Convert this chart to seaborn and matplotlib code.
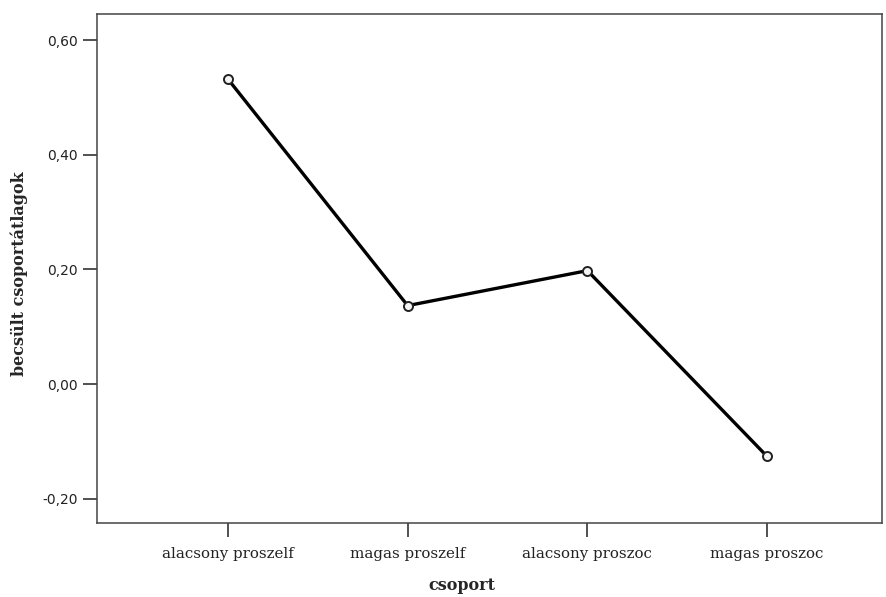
import matplotlib
matplotlib.use("Agg")
import matplotlib.pyplot as plt
import seaborn as sns
import pandas as pd

# estimated marginal means per group
groups = ["alacsony proszelf", "magas proszelf", "alacsony proszoc", "magas proszoc"]
means = [0.532, 0.137, 0.198, -0.126]

ytick_vals = [-0.20, 0.00, 0.20, 0.40, 0.60]
ytick_labels = ["-0,20", "0,00", "0,20", "0,40", "0,60"]

df = pd.DataFrame({"csoport": groups, "becslés": means})

sns.set_style("white")
fig = plt.figure(figsize=(8.87, 5.97), dpi=100)
ax = fig.add_axes([0.1094, 0.124, 0.885, 0.8525])

sns.lineplot(data=df, x="csoport", y="becslés", sort=False, color="black",
             linewidth=2.4, marker="o", markersize=6.5, markerfacecolor="#f4f4f4",
             markeredgecolor="#222222", markeredgewidth=1.4, ax=ax)

ax.set_xlim(-0.728, 3.639)
ax.set_ylim(-0.2419, 0.6453)
ax.set_yticks(ytick_vals)
ax.set_yticklabels(ytick_labels, fontsize=10, family="DejaVu Sans", color="#222222")
ax.set_xticks(range(len(groups)))
ax.set_xticklabels(groups, fontsize=10.8, family="DejaVu Serif", color="#222222")

ax.tick_params(axis="both", direction="out", length=10, width=1.2, color="#333333",
               left=True, bottom=True, pad=4)
ax.tick_params(axis="x", pad=7)
for s in ax.spines.values():
    s.set_visible(True)
    s.set_color("#444444")
    s.set_linewidth(1.1)

ax.set_xlabel("csoport", fontsize=11.5, fontweight="bold", family="DejaVu Serif")
ax.set_ylabel("becsült csoportátlagok", fontsize=11.5, fontweight="bold", family="DejaVu Serif")
ax.xaxis.set_label_coords(0.465, -0.106)
ax.yaxis.set_label_coords(-0.088, 0.49)

fig.savefig("out.png", dpi=100)
